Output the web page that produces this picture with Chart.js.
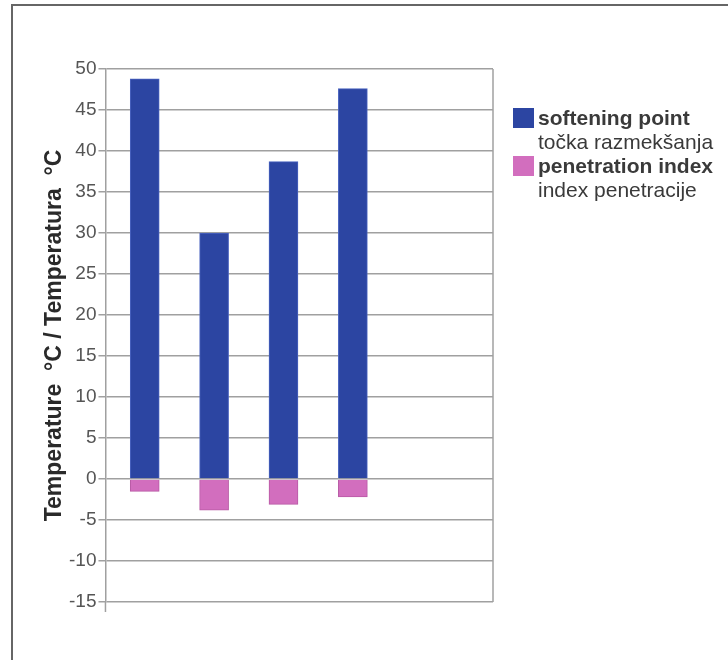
<!DOCTYPE html>
<html>
<head>
<meta charset="utf-8">
<script src="https://cdn.jsdelivr.net/npm/chart.js@4.4.1/dist/chart.umd.min.js"></script>
<style>
  html, body { margin: 0; padding: 0; background: #fff; }
  #wrap { position: relative; width: 728px; height: 660px; overflow: hidden; }
  #frame { position: absolute; left: 11px; top: 4px; width: 800px; height: 800px;
           border-top: 2px solid #666; border-left: 2px solid #666; }
  canvas { position: absolute; left: 0; top: 0; }
  #legend { position: absolute; left: 513px; top: 106px; font-family: "Liberation Sans", Arial, sans-serif;
            font-size: 21px; line-height: 24px; color: #3a3a3a; }
  .item { position: relative; padding-left: 25px; }
  .box { position: absolute; left: 0; top: 2px; width: 21px; height: 20px; }
  .b { font-weight: bold; }
</style>
</head>
<body>
<div id="wrap">
  <div id="frame"></div>
  <canvas id="c" width="728" height="660"></canvas>
  <div id="legend"></div>
</div>
<script>
// ---- data ----
const samples = [1, 2, 3, 4];
const softeningPoint = [48.8, 30.0, 38.7, 47.6];
const penetrationIndex = [-1.5, -3.8, -3.1, -2.2];
const seriesNamesEn = ['softening point', 'penetration index'];
const seriesNamesHr = ['točka razmekšanja', 'index penetracije'];
const yTicks = [-15, -10, -5, 0, 5, 10, 15, 20, 25, 30, 35, 40, 45, 50];
const yTitle = 'Temperature  °C / Temperatura  °C';

const colors = ['#2C45A2', '#D26EBE'];
const borders = ['#4a63c0', '#b85aa5'];

const seriesValues = [softeningPoint, penetrationIndex];
const datasets = seriesValues.map((vals, k) => ({
  label: seriesNamesEn[k],
  data: samples.map((s, i) => ({ x: s, y: vals[i] })),
  backgroundColor: colors[k],
  borderColor: borders[k],
  borderWidth: 1,
  barThickness: 29
}));

// HTML legend built from series names
const legend = document.getElementById('legend');
seriesNamesEn.forEach((n, k) => {
  const d = document.createElement('div');
  d.className = 'item';
  d.innerHTML = '<span class="box" style="background:' + colors[k] + '"></span>' +
    '<div class="b"></div><div></div>';
  d.children[1].textContent = n;
  d.children[2].textContent = seriesNamesHr[k];
  legend.appendChild(d);
});

const frameRight = {
  id: 'frameRight',
  afterDraw(chart) {
    const { ctx, chartArea: a } = chart;
    ctx.save();
    ctx.strokeStyle = '#a0a0a0';
    ctx.lineWidth = 1.5;
    ctx.beginPath();
    ctx.moveTo(a.right, a.top);
    ctx.lineTo(a.right, a.bottom);
    ctx.stroke();
    ctx.beginPath();
    ctx.moveTo(a.left, a.bottom);
    ctx.lineTo(a.left, a.bottom + 10);
    ctx.stroke();
    ctx.restore();
  }
};

new Chart(document.getElementById('c'), {
  type: 'bar',
  data: { datasets },
  plugins: [frameRight],
  options: {
    responsive: false,
    animation: false,
    layout: { padding: { left: 39, right: 235, top: 69, bottom: 58 } },
    plugins: { legend: { display: false }, tooltip: { enabled: false } },
    scales: {
      x: {
        type: 'linear',
        stacked: true,
        offset: false,
        min: 0.434,
        max: 6.02,
        display: false
      },
      y: {
        stacked: true,
        min: -15,
        max: 50,
        afterBuildTicks(scale) { scale.ticks = yTicks.map(v => ({ value: v })); },
        ticks: {
          color: '#555',
          padding: 2,
          font: { family: 'Liberation Sans', size: 19 }
        },
        grid: { color: '#a0a0a0', lineWidth: 1.5, tickLength: 7 },
        border: { color: '#a0a0a0', width: 1.5 },
        title: {
          display: true,
          text: yTitle,
          color: '#2a2a2a',
          font: { family: 'Liberation Sans', size: 23, weight: 'bold', lineHeight: 1 },
          padding: { top: 4, bottom: 1 }
        }
      }
    }
  }
});
</script>
</body>
</html>
